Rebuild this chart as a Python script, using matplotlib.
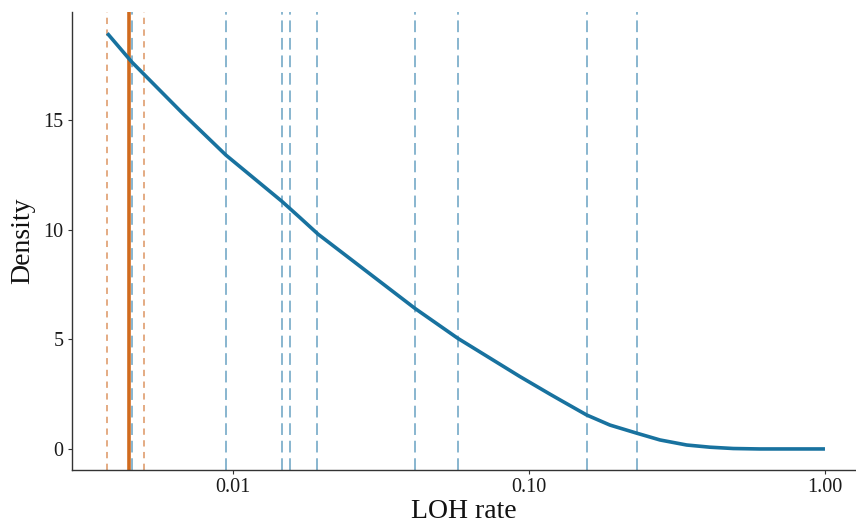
import matplotlib
matplotlib.use("Agg")
import matplotlib.pyplot as plt

plt.rcParams['font.family'] = ['Liberation Serif', 'DejaVu Serif']

# Density curve
loh_rate = [0.00376, 0.00455, 0.00679, 0.00947, 0.01461, 0.01684, 0.01937,
            0.04119, 0.05742, 0.09324, 0.1177, 0.1272, 0.1566, 0.1877,
            0.2312, 0.2771, 0.3410, 0.4088, 0.4900, 0.60, 0.80, 1.00]
density = [18.96, 17.65, 15.28, 13.40, 11.30, 10.55, 9.80,
           6.41, 5.05, 3.30, 2.50, 2.24, 1.55, 1.09,
           0.72, 0.41, 0.18, 0.08, 0.02, 0.0, 0.0, 0.0]

# Vertical reference lines
blue_dashed = [0.00456, 0.00947, 0.01466, 0.0156, 0.01923, 0.0412, 0.0576, 0.157, 0.232]
orange_solid = [0.00447]
orange_dashed = [0.00374, 0.0050]

xticks = [0.01, 0.1, 1.0]
xtick_labels = ["0.01", "0.10", "1.00"]
yticks = [0, 5, 10, 15]

fig = plt.figure(figsize=(8.56, 5.26), dpi=100)
ax = fig.add_axes([72/856, 1 - 470/526, (856 - 72)/856, (470 - 12)/526])

for x in blue_dashed:
    ax.axvline(x, color="#7FB0CC", lw=1.3, dashes=(6.5, 3.2), zorder=1)
for x in orange_dashed:
    ax.axvline(x, color="#E2A57A", lw=1.3, dashes=(3.5, 3.0), zorder=1)
for x in orange_solid:
    ax.axvline(x, color="#D06A1E", lw=2.6, zorder=2)

ax.plot(loh_rate, density, color="#18729F", lw=2.6, solid_capstyle="butt",
        solid_joinstyle="round", zorder=3)

ax.set_xscale("log")
ax.set_xlim(0.002858, 1.273)
ax.set_ylim(-0.96, 19.93)
ax.set_xticks(xticks)
ax.set_xticklabels(xtick_labels)
ax.minorticks_off()
ax.set_yticks(yticks)
ax.set_yticklabels([str(v) for v in yticks])

for s in ["top", "right"]:
    ax.spines[s].set_visible(False)
for s in ["left", "bottom"]:
    ax.spines[s].set_color("#333333")
    ax.spines[s].set_linewidth(1.0)

ax.tick_params(axis="both", direction="out", length=3, width=0.8, color="#333333",
               labelsize=14.5, labelcolor="#1a1a1a", pad=3)

ax.set_xlabel("LOH rate", fontsize=20, color="#111111", labelpad=1)
ax.set_ylabel("Density", fontsize=20, color="#111111", labelpad=6)

fig.savefig("out.png", dpi=100)
